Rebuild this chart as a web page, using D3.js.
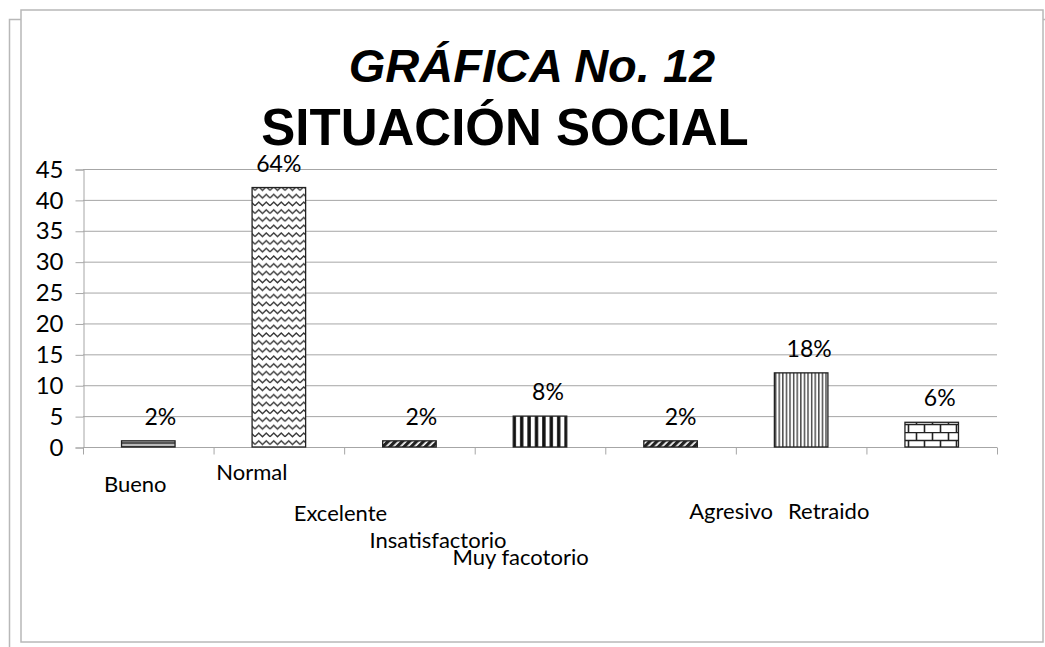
<!DOCTYPE html>
<meta charset="utf-8">
<script src="https://d3js.org/d3.v7.min.js"></script>
<style>
  body { margin: 0; background: #fff; }
  svg { display: block; }
</style>
<div id="chart"></div>
<script>
// data
var categories = ["Bueno", "Normal", "Excelente", "Insatisfactorio", "Muy facotorio", "Agresivo", "Retraido"];
var counts = [1, 42, 1, 5, 1, 12, 4];
var percentLabels = ["2%", "64%", "2%", "8%", "2%", "18%", "6%"];
var yTicks = [0, 5, 10, 15, 20, 25, 30, 35, 40, 45];
var fills = ["hlines", "waves", "diag", "wvert", "diag", "nvert", "brick"];

// staggered category label placement (dx from band center, baseline y)
var labelDx = [-13, -27, -69, -102, -150, -70, -103];
var labelY = [492, 480, 521, 548, 565, 519, 519];
var pctDx = [12, 0, 12, 8, 10, 8, 8];

var W = 1045, H = 647;
var svg = d3.select("#chart").append("svg")
    .attr("width", W).attr("height", H);

// patterns
var defs = svg.append("defs");

var p = defs.append("pattern").attr("id", "hlines")
    .attr("patternUnits", "userSpaceOnUse").attr("width", 4).attr("height", 4);
p.append("rect").attr("width", 4).attr("height", 4).attr("fill", "#bbb");
p.append("rect").attr("y", 2).attr("width", 4).attr("height", 2).attr("fill", "#555");

p = defs.append("pattern").attr("id", "waves")
    .attr("patternUnits", "userSpaceOnUse").attr("width", 15).attr("height", 7.7);
p.append("rect").attr("width", 15).attr("height", 7.7).attr("fill", "#fff");
p.append("path").attr("d", "M0,5.5 L3.75,2 L7.5,5.5 L11.25,2 L15,5.5")
    .attr("fill", "none").attr("stroke", "#333").attr("stroke-width", 1.4);

p = defs.append("pattern").attr("id", "diag")
    .attr("patternUnits", "userSpaceOnUse").attr("width", 5).attr("height", 5)
    .attr("patternTransform", "rotate(45)");
p.append("rect").attr("width", 5).attr("height", 5).attr("fill", "#fff");
p.append("rect").attr("width", 3.3).attr("height", 5).attr("fill", "#222");

p = defs.append("pattern").attr("id", "wvert")
    .attr("patternUnits", "userSpaceOnUse").attr("width", 7.4).attr("height", 10);
p.append("rect").attr("width", 7.4).attr("height", 10).attr("fill", "#fff");
p.append("rect").attr("x", 2).attr("width", 3.4).attr("height", 10).attr("fill", "#111");

p = defs.append("pattern").attr("id", "nvert")
    .attr("patternUnits", "userSpaceOnUse").attr("width", 3.6).attr("height", 10);
p.append("rect").attr("width", 3.6).attr("height", 10).attr("fill", "#fff");
p.append("rect").attr("x", 1).attr("width", 1.3).attr("height", 10).attr("fill", "#333");

p = defs.append("pattern").attr("id", "brick")
    .attr("patternUnits", "userSpaceOnUse").attr("width", 16).attr("height", 16);
p.append("rect").attr("width", 16).attr("height", 16).attr("fill", "#fff");
p.append("path").attr("d", "M0,0.5H16 M0,8.5H16 M4.5,0V8 M12.5,8V16")
    .attr("stroke", "#222").attr("stroke-width", 1.6);

// frames
svg.append("path")
    .attr("d", "M9.5,647 V19.5 H1045")
    .attr("fill", "none").attr("stroke", "#b8b8b8").attr("stroke-width", 1.5);
svg.append("rect")
    .attr("x", 21).attr("y", 10).attr("width", 1022).attr("height", 632)
    .attr("fill", "#fff").attr("stroke", "#b8b8b8").attr("stroke-width", 1.5);

// title
svg.append("text")
    .attr("x", 532).attr("y", 82)
    .attr("text-anchor", "middle")
    .style("font-family", "Liberation Sans, Arial, sans-serif")
    .style("font-size", "47px").style("font-weight", "bold").style("font-style", "italic")
    .text("GRÁFICA No. 12");
svg.append("text")
    .attr("x", 505).attr("y", 145)
    .attr("text-anchor", "middle")
    .style("font-family", "Liberation Sans, Arial, sans-serif")
    .style("font-size", "51px").style("font-weight", "bold")
    .text("SITUACIÓN SOCIAL");

// scales
var x = d3.scaleBand().domain(categories).range([83, 997]).padding(0);
var y = d3.scaleLinear().domain([0, 45]).range([447, 169]);

// gridlines
svg.append("g").selectAll("line")
    .data(yTicks.filter(function (d) { return d > 0; }))
    .enter().append("line")
    .attr("x1", 83).attr("x2", 997)
    .attr("y1", function (d) { return y(d) + 0.5; })
    .attr("y2", function (d) { return y(d) + 0.5; })
    .attr("stroke", "#a6a6a6").attr("stroke-width", 1);

// y axis
var yAxis = svg.append("g")
    .attr("transform", "translate(83.5,0.5)")
    .call(d3.axisLeft(y).tickValues(yTicks).tickSize(8).tickPadding(12));
yAxis.select(".domain").attr("stroke", "#a6a6a6");
yAxis.selectAll(".tick line").attr("stroke", "#a6a6a6");
yAxis.selectAll("text")
    .style("font-family", "Lato, sans-serif").style("font-size", "24px")
    .attr("fill", "#000");

// x axis
var xAxis = svg.append("g")
    .attr("transform", "translate(0," + (y(0) + 0.5) + ")");
xAxis.append("line")
    .attr("x1", 83).attr("x2", 997)
    .attr("stroke", "#a6a6a6");
xAxis.selectAll(".xt")
    .data(categories.concat(["end"]))
    .enter().append("line")
    .attr("x1", function (d, i) { return (i < categories.length ? x(d) : x.range()[1]) + 0.5; })
    .attr("x2", function (d, i) { return (i < categories.length ? x(d) : x.range()[1]) + 0.5; })
    .attr("y1", 0).attr("y2", 7)
    .attr("stroke", "#a6a6a6");

// bars
var barW = x.bandwidth() * 0.41;
svg.append("g").selectAll("rect")
    .data(categories)
    .enter().append("rect")
    .attr("x", function (d) { return x(d) + x.bandwidth() / 2 - barW / 2; })
    .attr("y", function (d, i) { return y(counts[i]); })
    .attr("width", barW)
    .attr("height", function (d, i) { return y(0) - y(counts[i]); })
    .attr("fill", function (d, i) { return "url(#" + fills[i] + ")"; })
    .attr("stroke", "#222").attr("stroke-width", 1.3);

// percent labels
svg.append("g").selectAll("text")
    .data(categories)
    .enter().append("text")
    .attr("x", function (d, i) { return x(d) + x.bandwidth() / 2 + pctDx[i]; })
    .attr("y", function (d, i) { return y(counts[i]) - 16; })
    .attr("text-anchor", "middle")
    .style("font-family", "Lato, sans-serif").style("font-size", "23px")
    .text(function (d, i) { return percentLabels[i]; });

// category labels
svg.append("g").selectAll("text")
    .data(categories)
    .enter().append("text")
    .attr("x", function (d, i) { return x(d) + x.bandwidth() / 2 + labelDx[i]; })
    .attr("y", function (d, i) { return labelY[i]; })
    .attr("text-anchor", "middle")
    .style("font-family", "Lato, sans-serif").style("font-size", "22px")
    .text(function (d) { return d; });
</script>
